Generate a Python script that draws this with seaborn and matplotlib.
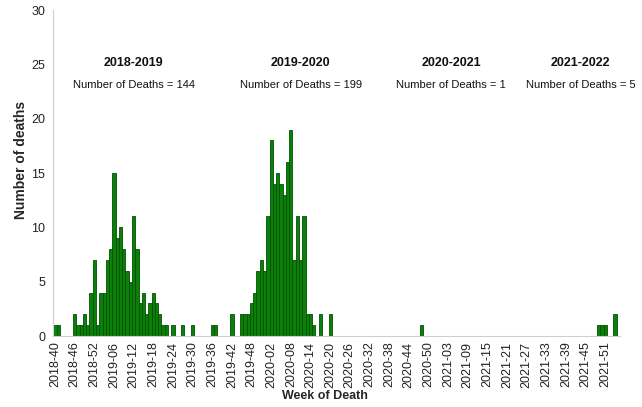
import numpy as np
import pandas as pd
import matplotlib
matplotlib.use("Agg")
import matplotlib.pyplot as plt
import seaborn as sns

# MMWR week categories shown on the axis (year, first week, last week)
week_spans = [(2018, 40, 52), (2019, 1, 52), (2020, 1, 53), (2021, 1, 52), (2022, 1, 3)]
weeks = [f"{y}-{w:02d}" for y, a, b in week_spans for w in range(a, b + 1)]

# weeks with reported deaths and their counts
death_weeks = [
    "2018-40", "2018-41", "2018-46", "2018-47", "2018-48", "2018-49", "2018-50", "2018-51", "2018-52",
    "2019-01", "2019-02", "2019-03", "2019-04", "2019-05", "2019-06", "2019-07", "2019-08", "2019-09",
    "2019-10", "2019-11", "2019-12", "2019-13", "2019-14", "2019-15", "2019-16", "2019-17", "2019-18",
    "2019-19", "2019-20", "2019-21", "2019-22", "2019-24", "2019-27", "2019-30", "2019-36", "2019-37",
    "2019-42", "2019-45", "2019-46", "2019-47", "2019-48", "2019-49", "2019-50", "2019-51", "2019-52",
    "2020-01", "2020-02", "2020-03", "2020-04", "2020-05", "2020-06", "2020-07", "2020-08", "2020-09",
    "2020-10", "2020-11", "2020-12", "2020-13", "2020-14", "2020-15", "2020-17", "2020-20",
    "2020-48",
    "2021-49", "2021-50", "2021-51", "2022-02",
]
death_counts = [
    1, 1, 2, 1, 1, 2, 1, 4, 7,
    1, 4, 4, 7, 8, 15, 9, 10, 8,
    6, 5, 11, 8, 3, 4, 2, 3, 4,
    3, 2, 1, 1, 1, 1, 1, 1, 1,
    2, 2, 2, 2, 3, 4, 6, 7, 6,
    11, 18, 14, 15, 14, 13, 16, 19, 7,
    11, 7, 11, 2, 2, 1, 2, 2,
    1,
    1, 1, 1, 2,
]

seasons = ["2018-2019", "2019-2020", "2020-2021", "2021-2022"]
season_totals = [144, 199, 1, 5]

df = pd.DataFrame({"week": death_weeks, "deaths": death_counts})

sns.set_style("white")
plt.rcParams["font.family"] = ["Liberation Sans", "DejaVu Sans"]

fig = plt.figure(figsize=(6.42, 4.07), dpi=100)
ax = fig.add_axes([0.0832, 0.1744, 0.8825, 0.801])

sns.barplot(data=df, x="week", y="deaths", order=weeks, color="#0a800a",
            saturation=1, width=1.0, edgecolor="#035003", linewidth=0.6, ax=ax)

n = len(weeks)
ax.set_xlim(-0.5, n - 0.5)
ax.set_ylim(0, 30)
ax.set_yticks(range(0, 31, 5))
ax.set_xticks(range(0, n, 6))
ax.set_xticklabels(weeks[::6], rotation=90, fontsize=9, color="#222222")
ax.set_xticks(np.arange(-0.5, n, 2), minor=True)
ax.tick_params(axis="x", which="major", length=0, pad=4)
ax.tick_params(axis="x", which="minor", length=3, color="#bfbfbf", width=0.6)
ax.tick_params(axis="y", labelsize=9, labelcolor="#222222", length=0, pad=6)

for s in ["top", "right"]:
    ax.spines[s].set_visible(False)
for s in ["left", "bottom"]:
    ax.spines[s].set_color("#cfcfcf")
    ax.spines[s].set_linewidth(0.8)

ax.set_xlabel("Week of Death", fontsize=9, fontweight="bold", labelpad=2)
ax.xaxis.set_label_coords(0.48, -0.166)
ax.set_ylabel("Number of deaths", fontsize=10, fontweight="bold")
ax.yaxis.set_label_coords(-0.045, 0.54)

label_x = [24, 75, 121, 160.5]
for x, s, t in zip(label_x, seasons, season_totals):
    ax.text(x, 25.1, s, ha="center", va="center", fontsize=9, fontweight="bold", color="#111111")
    ax.text(x, 23.1, f"Number of Deaths = {t}", ha="center", va="center", fontsize=8, color="#111111")

fig.savefig("out.png", dpi=100)
